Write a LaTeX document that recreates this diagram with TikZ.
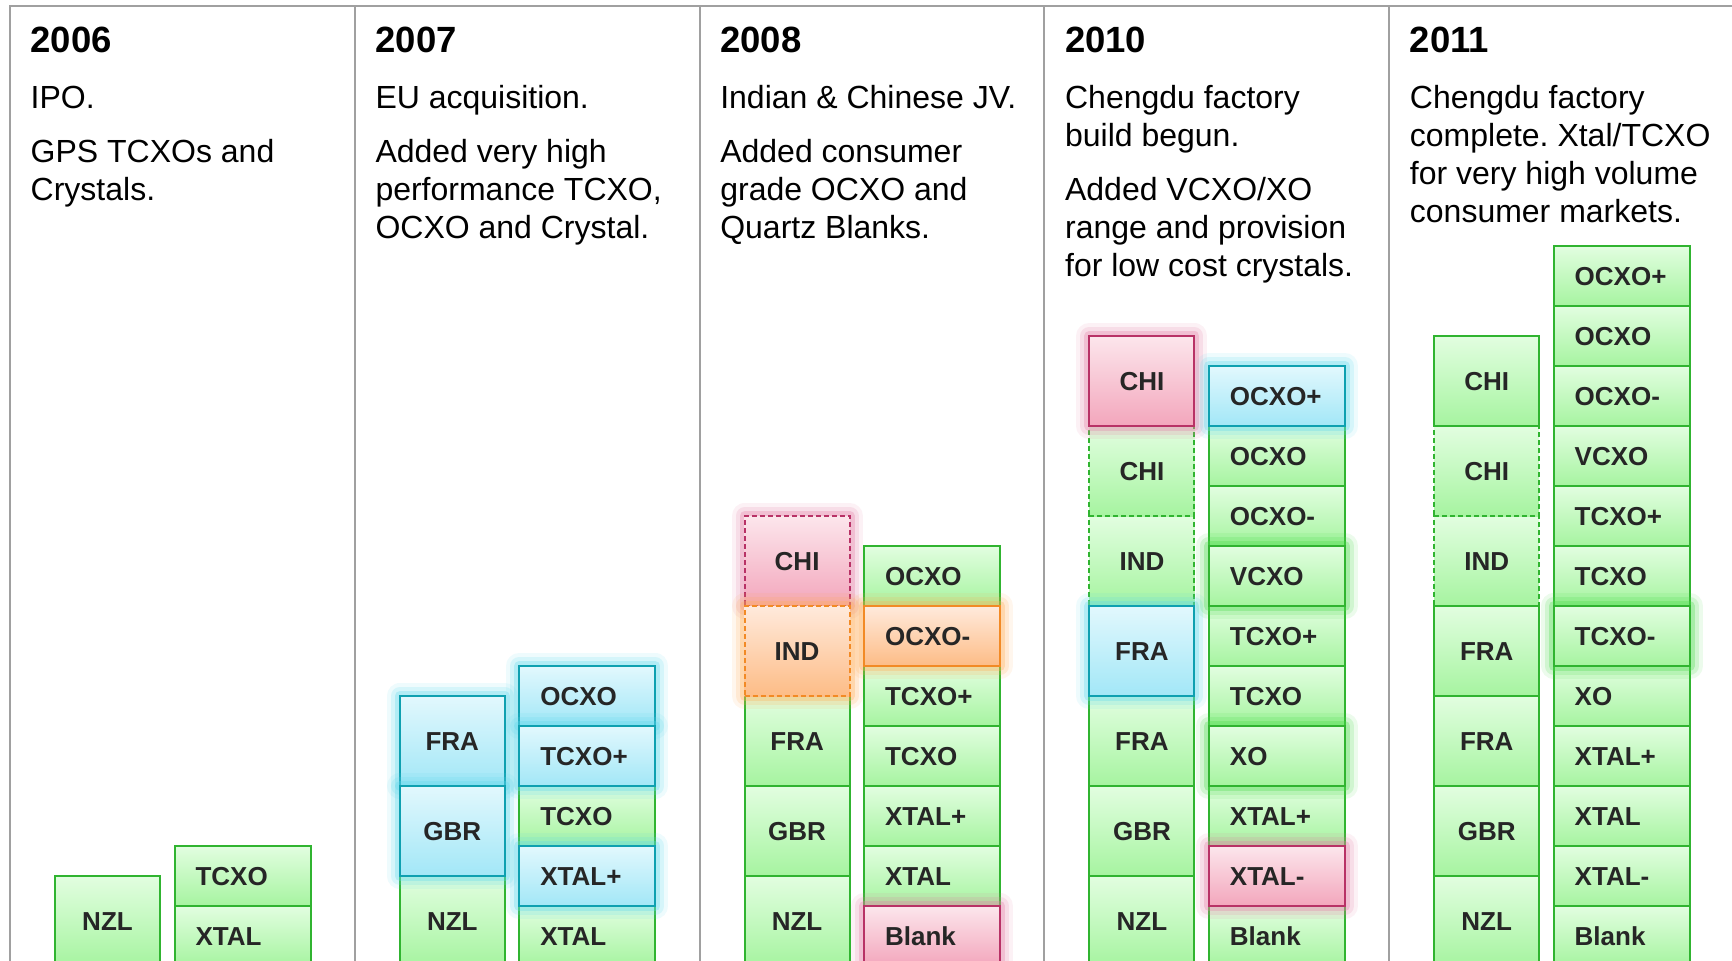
\documentclass[tikz,border=0pt]{standalone}
\usepackage{fontspec}
\setmainfont{Liberation Sans}
\frenchspacing
\definecolor{gtop}{HTML}{E2FEE0}
\definecolor{gbot}{HTML}{A6F4A0}
\definecolor{gline}{HTML}{30B430}
\definecolor{gglow}{HTML}{4ADB4A}
\definecolor{btop}{HTML}{E2F8FD}
\definecolor{bbot}{HTML}{A2E7F7}
\definecolor{bline}{HTML}{0EA0B0}
\definecolor{bglow}{HTML}{5FD8EC}
\definecolor{ptop}{HTML}{FCE6EC}
\definecolor{pbot}{HTML}{F3A6BC}
\definecolor{pline}{HTML}{B83266}
\definecolor{pglow}{HTML}{E47BA4}
\definecolor{otop}{HTML}{FFEADC}
\definecolor{obot}{HTML}{FDBC86}
\definecolor{oline}{HTML}{F28A25}
\definecolor{oglow}{HTML}{FFAE55}
\definecolor{lbl}{HTML}{262626}
\definecolor{panelline}{HTML}{A0A0A0}
\tikzset{
  base/.style={draw, line width=2pt, inner sep=0pt, outer sep=0pt, anchor=north west,
    font=\bfseries\fontsize{26}{26}\selectfont, text=lbl, text height=18.6pt, text depth=0pt},
  cbox/.style={base, minimum width=105pt, minimum height=90pt},
  pbox/.style={base, minimum height=60pt, text width=94pt, inner xsep=21pt, align=left},
  G/.style={draw=gline, top color=gtop, bottom color=gbot},
  B/.style={draw=bline, top color=btop, bottom color=bbot},
  P/.style={draw=pline, top color=ptop, bottom color=pbot},
  O/.style={draw=oline, top color=otop, bottom color=obot},
  dashbox/.style={dash pattern=on 5pt off 3pt},
  glow/.style={
    preaction={draw=#1, solid, line width=26pt, draw opacity=.10, line join=round},
    preaction={draw=#1, solid, line width=18pt, draw opacity=.17, line join=round},
    preaction={draw=#1, solid, line width=10pt, draw opacity=.30, line join=round}},
  txt/.style={anchor=base west, inner sep=0pt, text=black, font=\fontsize{32}{38}\selectfont},
  yr/.style={anchor=base west, inner sep=0pt, text=black, font=\bfseries\fontsize{36.5}{40}\selectfont},
  panel/.style={draw=panelline, line width=2pt}
}
\begin{document}
\begin{tikzpicture}[x=1pt,y=-1pt]
\useasboundingbox (0,0) rectangle (1732,961);
\fill[white] (0,0) rectangle (1732,961);
% panel frame
\draw[panel] (10,961) -- (10,6) -- (1732,6);
\foreach \px in {354.8,699.6,1044.4,1389.2} \draw[panel] (\px,6) -- (\px,961);

% ---------- texts ----------
\node[yr]  (t06y) at (30.5,52) {2006};
\node[txt] (t06a) at (30.5,108) {IPO.};
\node[txt] (t06b) at (30.5,162) {GPS TCXOs and};
\node[txt] (t06c) at (30.5,200) {Crystals.};

\node[yr]  (t07y) at (375.3,52) {2007};
\node[txt] (t07a) at (375.3,108) {EU acquisition.};
\node[txt] (t07b) at (375.3,162) {Added very high};
\node[txt] (t07c) at (375.3,200) {performance TCXO,};
\node[txt] (t07d) at (375.3,238) {OCXO and Crystal.};

\node[yr]  (t08y) at (720.1,52) {2008};
\node[txt] (t08a) at (720.1,108) {Indian \& Chinese JV.};
\node[txt] (t08b) at (720.1,162) {Added consumer};
\node[txt] (t08c) at (720.1,200) {grade OCXO and};
\node[txt] (t08d) at (720.1,238) {Quartz Blanks.};

\node[yr]  (t10y) at (1064.9,52) {2010};
\node[txt] (t10a) at (1064.9,108) {Chengdu factory};
\node[txt] (t10b) at (1064.9,146) {build begun.};
\node[txt] (t10c) at (1064.9,200) {Added VCXO/XO};
\node[txt] (t10d) at (1064.9,238) {range and provision};
\node[txt] (t10e) at (1064.9,276) {for low cost crystals.};

\node[yr]  (t11y) at (1409.7,52) {2011};
\node[txt] (t11a) at (1409.7,108) {Chengdu factory};
\node[txt] (t11b) at (1409.7,146) {complete. Xtal/TCXO};
\node[txt] (t11c) at (1409.7,184) {for very high volume};
\node[txt] (t11d) at (1409.7,222) {consumer markets.};

% ---------- 2006 ----------
\node[cbox,G] (a-nzl) at (55,876) {NZL};
\node[pbox,G] (a-tcxo) at (174.5,846) {TCXO};
\node[pbox,G] (a-xtal) at (174.5,906) {XTAL};

% ---------- 2007 ----------
\node[cbox,G] (b-nzl) at (399.8,876) {NZL};
\node[pbox,G] (b-tcxo) at (519.3,786) {TCXO};
\node[pbox,G] (b-xtal) at (519.3,906) {XTAL};

% ---------- 2008 ----------
\node[cbox,G] (c-nzl) at (744.6,876) {NZL};
\node[cbox,G] (c-gbr) at (744.6,786) {GBR};
\node[cbox,G] (c-fra) at (744.6,696) {FRA};
\node[pbox,G] (c-ocxo) at (864.1,546) {OCXO};
\node[pbox,G] (c-tcxop) at (864.1,666) {TCXO+};
\node[pbox,G] (c-tcxo) at (864.1,726) {TCXO};
\node[pbox,G] (c-xtalp) at (864.1,786) {XTAL+};
\node[pbox,G] (c-xtal) at (864.1,846) {XTAL};

% ---------- 2010 ----------
\node[cbox,G,dashbox] (d-ind) at (1089.4,516) {IND};
\node[cbox,G,dashbox] (d-chi2) at (1089.4,426) {CHI};
\node[cbox,G] (d-nzl) at (1089.4,876) {NZL};
\node[cbox,G] (d-gbr) at (1089.4,786) {GBR};
\node[cbox,G] (d-fra2) at (1089.4,696) {FRA};
\node[pbox,G] (d-ocxo) at (1208.9,426) {OCXO};
\node[pbox,G] (d-ocxom) at (1208.9,486) {OCXO-};
\node[pbox,G] (d-tcxop) at (1208.9,606) {TCXO+};
\node[pbox,G] (d-tcxo) at (1208.9,666) {TCXO};
\node[pbox,G] (d-xtalp) at (1208.9,786) {XTAL+};
\node[pbox,G] (d-blank) at (1208.9,906) {Blank};

% ---------- 2011 ----------
\node[cbox,G,dashbox] (e-ind) at (1434.2,516) {IND};
\node[cbox,G,dashbox] (e-chi2) at (1434.2,426) {CHI};
\node[cbox,G] (e-nzl) at (1434.2,876) {NZL};
\node[cbox,G] (e-gbr) at (1434.2,786) {GBR};
\node[cbox,G] (e-fra2) at (1434.2,696) {FRA};
\node[cbox,G] (e-fra) at (1434.2,606) {FRA};
\node[cbox,G] (e-chi) at (1434.2,336) {CHI};
\node[pbox,G] (e-ocxop) at (1553.7,246) {OCXO+};
\node[pbox,G] (e-ocxo) at (1553.7,306) {OCXO};
\node[pbox,G] (e-ocxom) at (1553.7,366) {OCXO-};
\node[pbox,G] (e-vcxo) at (1553.7,426) {VCXO};
\node[pbox,G] (e-tcxop) at (1553.7,486) {TCXO+};
\node[pbox,G] (e-tcxo) at (1553.7,546) {TCXO};
\node[pbox,G] (e-xo) at (1553.7,666) {XO};
\node[pbox,G] (e-xtalp) at (1553.7,726) {XTAL+};
\node[pbox,G] (e-xtal) at (1553.7,786) {XTAL};
\node[pbox,G] (e-xtalm) at (1553.7,846) {XTAL-};
\node[pbox,G] (e-blank) at (1553.7,906) {Blank};

% ---------- highlighted (glowing) boxes ----------
\node[cbox,B,glow=bglow] (b-fra) at (399.8,696) {FRA};
\node[cbox,B,glow=bglow] (b-gbr) at (399.8,786) {GBR};
\node[pbox,B,glow=bglow] (b-ocxo) at (519.3,666) {OCXO};
\node[pbox,B,glow=bglow] (b-tcxop) at (519.3,726) {TCXO+};
\node[pbox,B,glow=bglow] (b-xtalp) at (519.3,846) {XTAL+};

\node[cbox,P,dashbox,glow=pglow] (c-chi) at (744.6,516) {CHI};
\node[cbox,O,dashbox,glow=oglow] (c-ind) at (744.6,606) {IND};
\node[pbox,O,glow=oglow] (c-ocxom) at (864.1,606) {OCXO-};
\node[pbox,P,glow=pglow] (c-blank) at (864.1,906) {Blank};

\node[cbox,B,glow=bglow] (d-fra) at (1089.4,606) {FRA};
\node[cbox,P,glow=pglow] (d-chi) at (1089.4,336) {CHI};
\node[pbox,B,glow=bglow] (d-ocxop) at (1208.9,366) {OCXO+};
\node[pbox,G,glow=gglow] (d-vcxo) at (1208.9,546) {VCXO};
\node[pbox,G,glow=gglow] (d-xo) at (1208.9,726) {XO};
\node[pbox,P,glow=pglow] (d-xtalm) at (1208.9,846) {XTAL-};

\node[pbox,G,glow=gglow] (e-tcxom) at (1553.7,606) {TCXO-};
\end{tikzpicture}
\end{document}
